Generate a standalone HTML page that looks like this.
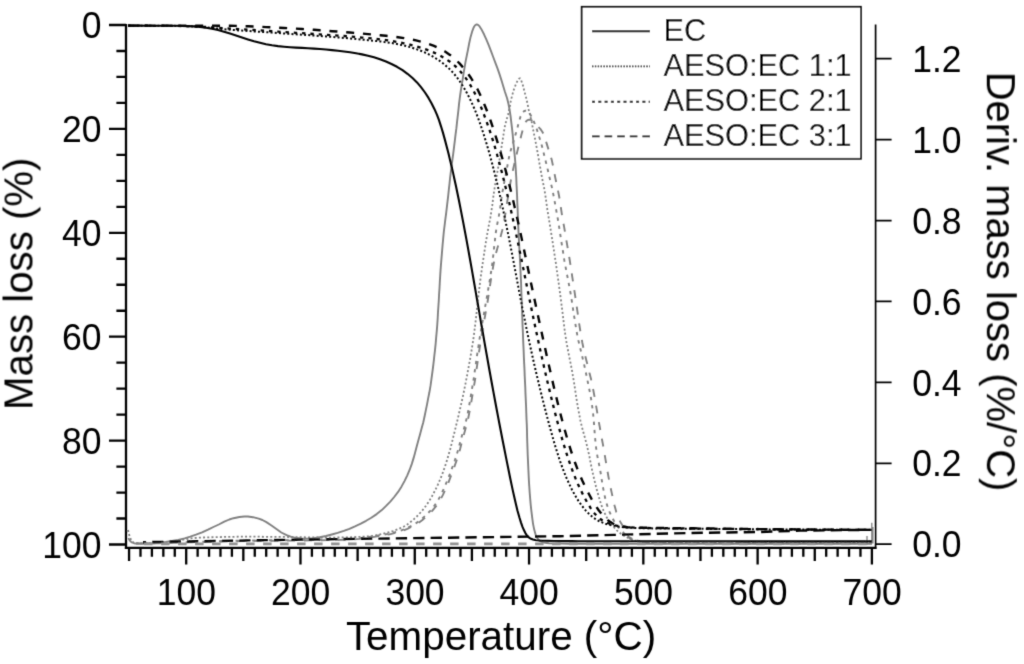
<!DOCTYPE html>
<html lang="en"><head><meta charset="utf-8"><title>TGA: mass loss and derivative mass loss vs temperature</title>
<style>
html,body{margin:0;padding:0;background:#fff;}
body{width:1024px;height:664px;overflow:hidden;}
svg{display:block;}
text{font-family:"Liberation Sans",Arial,Helvetica,sans-serif;fill:#000;}
.tick{font-size:35.5px;}
.lab{font-size:40.4px;}
.leg{font-size:30.8px;}
</style></head><body>
<svg width="1024" height="664" viewBox="0 0 1024 664" role="img" aria-label="Thermogravimetric analysis: mass loss and derivative mass loss versus temperature for EC and AESO:EC blends">
<rect width="1024" height="664" fill="#fff"/>
<defs><filter id="soft" x="0" y="0" width="1024" height="664" filterUnits="userSpaceOnUse"><feConvolveMatrix order="3" kernelMatrix="0.0169 0.0962 0.0169 0.0962 0.5476 0.0962 0.0169 0.0962 0.0169" divisor="1" edgeMode="duplicate" preserveAlpha="false"/></filter></defs>
<g filter="url(#soft)">

<g fill="none" stroke-linejoin="round" stroke-linecap="butt">
<path d="M128.5 538.0 L128.9 539.1 L129.3 539.9 L130.2 541.0 L130.9 541.7 L131.7 542.3 L132.6 542.7 L134.0 543.2 L135.5 543.5 L142.0 543.6 L148.0 543.4 L154.0 543.2 L159.9 542.6 L165.9 541.9 L171.9 541.0 L178.2 539.9 L184.6 538.4 L190.3 536.7 L196.0 534.7 L202.1 532.4 L208.0 529.7 L213.4 527.0 L218.8 524.5 L224.3 521.7 L229.3 519.5 L233.5 518.2 L239.4 517.0 L244.4 516.5 L247.9 516.5 L252.9 517.2 L258.7 518.7 L262.4 520.0 L266.4 522.1 L271.5 525.5 L276.4 529.0 L281.3 532.5 L286.6 535.1 L291.3 536.9 L294.7 537.7 L301.2 538.4 L307.2 538.6 L313.7 538.1 L319.6 537.2 L326.0 536.0 L331.8 534.5 L337.6 532.9 L343.8 530.9 L349.4 528.8 L355.0 526.4 L360.8 523.7 L366.1 520.8 L371.3 517.8 L376.7 514.1 L381.8 510.1 L386.1 505.9 L390.3 501.6 L394.2 497.0 L398.1 491.9 L401.6 486.4 L404.5 481.1 L407.3 475.3 L409.7 469.7 L411.9 463.6 L413.8 457.4 L415.4 451.6 L416.9 445.8 L418.6 439.5 L420.2 433.7 L421.7 427.9 L423.3 422.2 L424.7 415.8 L425.9 409.9 L427.1 404.1 L428.2 398.2 L429.4 392.3 L430.5 385.9 L431.4 379.4 L432.2 373.5 L433.0 367.5 L433.7 361.6 L434.4 355.1 L435.1 349.2 L435.7 343.2 L436.2 337.2 L436.8 330.7 L437.3 324.3 L437.7 318.3 L438.0 312.3 L438.4 306.3 L438.8 300.3 L439.1 294.3 L439.5 288.3 L439.8 282.3 L440.2 275.8 L440.6 269.4 L441.1 262.9 L441.6 256.9 L442.1 250.9 L442.6 244.9 L443.2 238.5 L443.8 232.0 L444.6 225.5 L445.3 219.6 L446.1 213.6 L446.8 207.7 L447.5 201.7 L448.2 195.8 L448.8 189.8 L449.5 183.8 L450.1 177.9 L450.9 171.4 L451.7 164.9 L452.5 159.0 L453.3 153.1 L454.1 146.6 L454.9 140.2 L455.6 134.2 L456.4 128.2 L457.0 122.3 L457.7 116.3 L458.4 110.4 L459.0 104.4 L459.8 97.9 L460.7 91.5 L461.7 85.1 L462.7 79.2 L463.6 73.2 L464.6 67.3 L465.7 60.9 L466.9 55.0 L468.1 49.1 L469.2 43.3 L470.6 36.9 L472.3 31.1 L473.5 27.9 L474.2 26.5 L474.8 25.7 L475.4 25.0 L475.8 24.8 L476.2 24.6 L476.6 24.5 L477.0 24.5 L477.4 24.6 L477.8 24.8 L478.6 25.3 L479.6 26.4 L481.2 28.9 L484.0 34.3 L486.4 39.7 L488.8 45.3 L491.1 51.3 L493.2 57.0 L495.3 62.6 L497.4 68.2 L499.4 73.9 L501.4 80.1 L503.1 85.8 L505.0 92.0 L507.1 98.2 L508.5 104.0 L509.6 109.9 L510.6 116.3 L511.3 122.3 L512.0 128.2 L512.7 134.7 L513.2 140.7 L513.8 146.7 L514.4 152.6 L515.0 158.6 L515.5 165.1 L515.9 171.6 L516.3 178.1 L516.5 184.1 L516.8 190.0 L517.1 196.0 L517.3 202.5 L517.6 208.5 L517.8 214.5 L518.0 220.5 L518.3 227.0 L518.6 233.5 L518.9 240.0 L519.2 246.0 L519.6 252.0 L519.9 258.0 L520.2 264.5 L520.5 271.0 L520.8 277.5 L521.1 283.9 L521.3 290.4 L521.5 296.4 L521.8 302.4 L522.0 308.4 L522.2 314.4 L522.4 320.4 L522.6 326.4 L522.9 332.4 L523.1 338.9 L523.4 345.4 L523.7 351.9 L523.9 357.9 L524.2 363.9 L524.5 369.9 L524.7 375.9 L525.0 381.9 L525.3 387.9 L525.5 393.9 L525.8 400.4 L526.1 406.8 L526.3 412.8 L526.5 418.8 L526.8 424.8 L527.0 430.8 L527.1 436.8 L527.3 442.8 L527.5 448.8 L527.7 454.8 L528.0 461.3 L528.3 467.8 L528.6 474.3 L528.9 480.8 L529.3 486.8 L529.7 492.8 L530.2 498.8 L530.7 504.8 L531.4 511.2 L532.2 517.7 L533.0 523.6 L534.2 529.6 L535.7 534.9 L536.7 537.1 L537.8 538.9 L538.7 540.1 L539.5 540.7 L540.2 541.2 L541.9 542.0 L545.3 542.8 L548.9 543.3 L555.4 543.5 L561.9 543.6 L568.4 543.7 L574.4 543.7 L580.4 543.8 L586.4 543.8 L592.5 543.8 L598.5 543.8 L604.5 543.8 L611.0 543.8 L617.5 543.8 L624.0 543.8 L630.5 543.8 L637.0 543.8 L643.5 543.8 L650.0 543.8 L656.5 543.8 L663.0 543.8 L669.5 543.8 L676.0 543.8 L682.5 543.8 L689.0 543.8 L695.5 543.8 L702.0 543.8 L708.5 543.8 L715.0 543.8 L721.5 543.8 L728.0 543.8 L734.5 543.8 L741.0 543.8 L747.5 543.8 L753.5 543.8 L759.5 543.8 L765.5 543.8 L771.5 543.8 L777.5 543.8 L783.5 543.8 L789.5 543.8 L795.5 543.8 L801.5 543.8 L807.5 543.8 L813.5 543.8 L819.5 543.8 L825.5 543.8 L831.5 543.8 L837.5 543.8 L843.5 543.8 L849.5 543.8 L855.5 543.8 L861.5 543.8 L867.5 543.8 L872.0 543.8" stroke="#808080" stroke-width="1.9"/>
<path d="M128.0 530.0 L129.3 535.4 L130.3 538.2 L131.2 540.0 L132.1 541.2 L132.8 542.0 L133.5 542.5 L134.4 542.9 L135.7 543.1 L141.8 543.3 L147.8 543.2 L153.8 542.9 L160.3 542.6 L166.8 542.0 L172.8 541.2 L178.7 540.4 L184.6 539.4 L190.6 538.4 L197.0 537.8 L203.5 537.5 L209.5 537.3 L215.5 537.1 L221.5 537.0 L228.0 536.9 L234.0 536.8 L240.0 536.7 L246.0 536.7 L252.5 536.7 L259.0 536.7 L265.0 536.8 L271.0 536.8 L277.0 536.9 L283.0 536.9 L289.0 537.0 L295.0 537.1 L301.0 537.2 L307.0 537.3 L313.0 537.4 L319.0 537.5 L325.5 537.6 L332.0 537.6 L338.0 537.5 L344.0 537.4 L350.0 537.3 L356.0 537.0 L362.5 536.7 L369.0 536.4 L375.4 535.5 L381.3 534.2 L387.1 532.7 L392.9 531.1 L398.6 529.0 L404.4 526.3 L409.0 523.3 L413.7 519.4 L418.0 515.3 L422.1 510.8 L425.8 506.0 L429.4 500.7 L432.4 495.5 L435.2 490.2 L438.0 484.3 L440.6 478.3 L442.8 472.7 L444.8 467.1 L446.8 460.9 L448.5 455.1 L450.2 449.4 L451.8 443.1 L453.2 437.3 L454.7 431.4 L456.1 425.6 L457.7 419.3 L459.0 413.4 L460.4 407.6 L461.7 401.7 L463.0 395.9 L464.3 389.5 L465.6 383.1 L466.8 376.8 L467.9 370.9 L469.0 365.0 L470.1 359.0 L471.1 353.1 L472.1 347.2 L473.1 340.8 L474.0 334.4 L474.8 327.9 L475.6 321.5 L476.3 315.5 L476.9 309.5 L477.5 303.6 L478.2 297.6 L478.9 291.6 L479.7 285.2 L480.5 278.7 L481.4 272.3 L482.2 266.4 L483.1 260.4 L484.0 254.5 L484.9 248.6 L485.8 242.6 L486.9 236.2 L488.0 229.8 L489.1 223.9 L490.3 218.0 L491.3 211.6 L492.3 205.2 L493.0 199.2 L493.8 193.3 L494.8 186.9 L495.9 180.5 L496.9 174.5 L498.0 168.6 L499.0 162.7 L500.1 156.3 L501.0 150.4 L501.9 144.5 L502.9 138.5 L503.8 132.6 L504.9 126.2 L506.5 119.9 L508.2 114.2 L509.6 107.8 L510.6 101.9 L512.1 95.6 L513.8 89.8 L516.1 83.7 L517.7 80.5 L518.6 79.2 L519.2 78.5 L519.5 78.4 L519.7 78.3 L520.0 78.3 L520.2 78.4 L520.5 78.7 L520.9 79.5 L523.0 85.6 L524.4 91.4 L526.0 97.2 L527.5 103.5 L528.6 109.4 L530.2 115.7 L531.7 122.1 L532.8 128.0 L534.0 133.9 L535.2 139.7 L536.4 146.1 L537.5 152.0 L538.6 158.4 L539.6 164.3 L540.8 170.7 L541.8 176.6 L543.0 182.5 L544.2 188.4 L545.3 194.8 L546.2 201.2 L547.0 207.2 L548.0 213.6 L549.0 219.5 L550.0 225.5 L550.9 231.4 L551.9 237.3 L552.8 243.2 L553.7 249.2 L554.7 255.6 L555.7 262.0 L556.6 268.5 L557.4 274.4 L558.3 280.3 L559.1 286.3 L559.9 292.2 L560.7 298.2 L561.5 304.6 L562.3 310.6 L563.0 316.5 L563.7 322.5 L564.5 328.9 L565.4 335.4 L566.4 341.8 L567.6 348.2 L568.7 354.1 L569.9 360.0 L571.1 365.8 L572.2 371.7 L573.2 377.7 L574.2 383.6 L575.1 389.5 L576.0 395.5 L576.9 401.4 L578.0 407.8 L579.2 414.2 L580.4 420.5 L581.9 426.9 L583.5 432.7 L585.1 438.5 L586.6 444.3 L588.1 450.6 L589.5 456.9 L590.6 462.8 L591.8 468.7 L593.2 475.1 L594.6 480.9 L596.0 486.7 L597.7 493.0 L599.4 498.8 L601.3 505.0 L603.5 510.6 L606.2 516.5 L609.4 521.6 L613.1 526.3 L616.8 530.4 L621.0 533.9 L624.8 536.4 L629.3 538.5 L635.0 540.4 L639.4 541.4 L645.8 542.1 L651.8 542.5 L657.8 542.6 L664.3 542.7 L670.8 542.8 L676.8 542.9 L682.8 542.9 L688.8 543.0 L694.8 543.0 L700.8 543.0 L707.3 543.0 L713.8 543.0 L720.3 543.0 L726.8 543.1 L733.3 543.1 L739.8 543.1 L746.3 543.1 L752.8 543.1 L759.3 543.1 L765.8 543.1 L772.3 543.1 L778.8 543.1 L785.3 543.2 L791.8 543.2 L797.8 543.2 L803.8 543.2 L809.8 543.2 L815.8 543.2 L821.8 543.2 L827.8 543.2 L833.8 543.2 L839.8 543.2 L845.8 543.2 L851.8 543.2 L857.8 543.2 L863.8 543.2 L870.3 543.2 L871.8 543.2" stroke="#808080" stroke-width="1.8" stroke-dasharray="2 2.2"/>
<path d="M136.0 543.4 L142.0 543.3 L148.0 543.2 L154.5 543.1 L161.0 543.0 L167.5 542.8 L174.0 542.6 L180.0 542.4 L186.0 542.2 L192.0 542.0 L198.0 541.9 L204.0 541.7 L210.0 541.5 L216.0 541.3 L222.0 541.2 L228.0 541.0 L234.0 540.8 L240.5 540.7 L247.0 540.5 L253.5 540.5 L260.0 540.4 L266.5 540.3 L272.5 540.3 L278.5 540.2 L284.5 540.2 L290.5 540.1 L297.0 540.0 L303.0 540.0 L309.0 539.9 L315.0 539.8 L321.0 539.7 L327.0 539.6 L333.0 539.5 L339.5 539.3 L346.0 539.1 L352.4 538.9 L358.9 538.3 L364.9 537.6 L370.8 536.7 L376.8 535.7 L382.7 534.8 L388.6 533.7 L394.5 532.4 L400.7 530.6 L406.3 528.4 L411.7 525.7 L417.2 522.4 L422.0 518.7 L426.5 514.7 L431.0 510.0 L434.8 505.2 L438.3 499.8 L441.3 494.1 L443.9 488.6 L446.4 482.7 L448.7 477.1 L450.8 471.5 L452.9 465.8 L454.9 460.2 L456.9 454.0 L458.7 447.8 L460.2 442.0 L461.8 436.2 L463.5 430.4 L465.1 424.6 L466.7 418.3 L468.0 412.0 L469.1 406.1 L470.1 400.2 L471.1 394.2 L472.1 388.3 L473.2 381.9 L474.2 375.5 L475.0 369.5 L475.9 363.6 L476.7 357.6 L477.6 351.7 L478.5 345.8 L479.5 339.3 L480.5 332.9 L481.6 326.5 L482.7 320.6 L483.8 314.7 L484.8 308.8 L485.9 302.4 L487.0 296.5 L488.0 290.6 L489.0 284.7 L490.0 278.7 L491.0 272.3 L492.0 265.9 L492.8 259.5 L493.5 253.5 L494.1 247.5 L494.8 241.6 L495.4 235.6 L496.3 229.2 L497.5 222.8 L498.7 216.9 L499.8 210.5 L500.7 204.6 L501.4 198.6 L502.4 192.2 L503.5 186.3 L504.6 180.4 L505.8 174.5 L506.9 168.6 L508.0 162.7 L509.1 156.8 L510.7 150.5 L512.5 144.8 L514.2 139.0 L515.9 133.3 L517.5 127.5 L518.9 121.7 L520.6 116.4 L521.7 114.1 L522.4 112.8 L523.0 112.1 L523.8 111.4 L524.6 110.9 L525.0 110.8 L525.5 110.7 L526.0 110.6 L526.4 110.7 L526.9 110.8 L527.3 110.9 L527.8 111.1 L528.5 111.7 L529.1 112.4 L532.1 117.7 L534.7 123.6 L536.8 129.3 L538.6 135.0 L540.4 140.7 L542.2 147.0 L543.6 152.8 L545.0 158.6 L546.5 164.5 L548.0 170.8 L549.3 176.6 L550.7 182.5 L552.1 188.3 L553.4 194.7 L554.5 200.6 L555.6 206.5 L556.6 212.4 L557.8 218.8 L558.8 224.7 L559.7 230.6 L560.6 236.5 L561.5 242.5 L562.5 248.4 L563.4 254.3 L564.4 260.7 L565.6 267.1 L566.8 273.5 L568.0 279.4 L569.1 285.3 L570.3 291.7 L571.3 297.6 L572.2 303.5 L573.1 309.5 L574.0 315.4 L575.0 321.3 L576.0 327.8 L577.1 334.1 L578.4 340.5 L579.9 346.8 L581.3 352.7 L582.7 358.5 L584.1 364.4 L585.5 370.7 L586.7 376.6 L587.9 382.5 L589.1 388.4 L590.3 394.3 L591.4 400.7 L592.3 407.1 L593.1 413.5 L593.7 420.0 L594.2 426.0 L594.6 432.0 L595.1 438.0 L595.7 444.4 L596.5 450.9 L597.6 457.3 L598.8 463.1 L600.0 469.0 L601.0 475.0 L601.9 480.9 L602.9 486.8 L604.1 493.2 L605.4 499.1 L607.0 504.9 L609.1 511.0 L611.6 516.5 L614.4 521.8 L617.8 526.7 L621.7 531.2 L625.8 534.9 L629.6 537.4 L632.7 539.1 L635.9 540.3 L641.8 541.6 L648.3 542.3 L654.3 542.6 L660.3 542.8 L666.8 542.9 L673.3 543.0 L679.3 543.1 L685.3 543.1 L691.3 543.2 L697.3 543.2 L703.8 543.2 L710.3 543.2 L716.8 543.2 L723.3 543.3 L729.8 543.3 L736.3 543.3 L742.8 543.3 L749.3 543.3 L755.8 543.3 L762.3 543.3 L768.8 543.3 L775.3 543.3 L781.8 543.3 L788.3 543.4 L794.8 543.4 L800.8 543.4 L806.8 543.4 L812.8 543.4 L818.8 543.4 L824.8 543.4 L830.8 543.4 L836.8 543.4 L842.8 543.4 L848.8 543.4 L854.8 543.4 L860.8 543.4 L866.8 543.4 L871.8 543.4" stroke="#808080" stroke-width="1.9" stroke-dasharray="3.4 4.9"/>
<path d="M136.0 543.6 L142.0 543.5 L148.0 543.4 L154.5 543.3 L161.0 543.2 L167.5 543.0 L174.0 542.8 L180.0 542.6 L186.0 542.4 L192.0 542.2 L198.5 542.0 L205.0 541.9 L211.5 541.7 L217.5 541.6 L223.5 541.5 L229.5 541.3 L235.5 541.2 L241.5 541.1 L248.0 541.0 L254.5 540.9 L261.0 540.9 L267.0 540.8 L273.0 540.8 L279.0 540.7 L285.0 540.7 L291.0 540.6 L297.5 540.5 L303.5 540.5 L309.5 540.4 L315.5 540.3 L321.5 540.2 L327.5 540.1 L333.5 540.0 L340.0 539.9 L346.5 539.7 L352.9 539.5 L359.4 538.9 L365.4 538.2 L371.3 537.4 L377.3 536.4 L383.7 535.4 L389.6 534.3 L395.5 532.9 L401.7 531.1 L407.3 528.9 L412.7 526.2 L418.3 523.0 L423.1 519.4 L427.7 515.4 L432.2 510.8 L436.1 506.2 L439.7 500.8 L442.8 495.1 L445.4 489.6 L448.0 483.7 L450.3 477.6 L452.4 472.0 L454.5 466.3 L456.5 460.7 L458.5 454.5 L460.3 448.3 L461.7 442.5 L463.3 436.6 L464.9 430.9 L466.5 425.1 L468.1 418.8 L469.4 412.4 L470.6 406.0 L471.6 400.1 L472.6 394.2 L473.6 388.3 L474.7 381.9 L475.7 375.4 L476.5 369.5 L477.4 363.6 L478.2 357.6 L479.1 351.7 L480.0 345.7 L481.0 339.3 L482.0 332.9 L483.1 326.5 L484.2 320.6 L485.3 314.7 L486.3 308.8 L487.4 302.9 L488.3 297.0 L489.2 291.0 L490.1 285.1 L491.0 279.1 L492.1 272.7 L493.2 266.3 L494.4 260.0 L495.9 253.7 L497.5 247.8 L499.1 242.1 L500.7 236.3 L502.2 230.5 L503.6 224.1 L504.7 217.7 L505.7 211.8 L506.6 205.9 L507.5 199.9 L508.5 194.0 L509.6 187.6 L510.6 181.7 L511.8 175.8 L513.1 169.4 L514.4 163.6 L515.8 157.8 L517.2 151.9 L518.6 146.1 L520.1 140.3 L521.5 134.4 L523.2 128.1 L524.8 123.8 L525.4 122.5 L525.9 121.7 L526.6 120.9 L527.3 120.3 L528.2 119.9 L529.1 119.7 L530.0 119.7 L530.5 119.8 L531.4 120.1 L532.2 120.7 L536.4 124.9 L540.3 128.9 L542.3 131.7 L544.0 134.8 L545.1 137.5 L546.6 143.4 L548.4 149.1 L550.3 154.8 L551.9 160.6 L553.2 166.9 L554.3 172.8 L555.5 178.7 L556.7 184.6 L558.0 190.5 L559.2 196.8 L560.3 203.2 L561.1 209.2 L562.0 215.1 L563.1 221.5 L564.2 227.4 L565.2 233.3 L566.2 239.2 L567.2 245.2 L568.2 251.1 L569.3 257.5 L570.3 263.9 L571.3 270.3 L572.2 276.3 L573.1 282.2 L574.0 288.1 L574.9 294.1 L575.8 300.0 L576.6 305.9 L577.5 311.9 L578.3 317.8 L579.2 323.8 L580.1 329.7 L581.2 336.1 L582.3 342.5 L583.6 348.9 L585.0 355.2 L586.5 361.0 L588.0 366.8 L589.4 372.7 L590.9 378.5 L592.3 384.9 L593.5 391.2 L594.7 397.6 L595.7 403.5 L596.7 409.4 L597.7 415.4 L598.7 421.3 L599.8 427.2 L600.8 433.1 L601.9 439.0 L603.0 444.9 L604.1 451.3 L605.1 457.2 L606.1 463.1 L607.2 469.5 L608.3 475.9 L609.4 481.8 L610.6 487.7 L612.0 494.1 L613.3 499.9 L614.6 505.8 L616.3 512.1 L618.5 518.2 L620.5 522.2 L623.6 527.3 L626.4 532.7 L628.6 536.7 L629.4 537.9 L630.4 539.0 L631.6 539.8 L632.9 540.6 L634.7 541.4 L640.1 542.5 L646.1 543.0 L652.6 543.1 L659.1 543.2 L665.6 543.3 L671.6 543.3 L677.6 543.3 L683.6 543.4 L689.6 543.4 L695.6 543.4 L701.6 543.4 L708.1 543.4 L714.6 543.4 L721.1 543.4 L727.6 543.5 L734.1 543.5 L740.6 543.5 L747.1 543.5 L753.6 543.5 L760.1 543.5 L766.6 543.5 L773.1 543.5 L779.6 543.5 L786.1 543.5 L792.6 543.6 L798.6 543.6 L804.6 543.6 L810.6 543.6 L816.6 543.6 L822.6 543.6 L828.6 543.6 L834.6 543.6 L840.6 543.6 L846.6 543.6 L852.6 543.6 L858.6 543.6 L864.6 543.6 L871.1 543.6 L871.6 543.6" stroke="#808080" stroke-width="1.9" stroke-dasharray="8 8.8"/>
<path d="M872 529.8 L800 530.6 L759 532 L690 533 L560 536.2 L500 537 L300 539.6 L143 542.2" stroke="#000" stroke-width="2.4" stroke-dasharray="11.3 6.1" stroke-dashoffset="4.8"/>
<path d="M872 543.9 H136" stroke="#929292" stroke-width="2.9" stroke-dasharray="8.5 8.5" stroke-dashoffset="-5.4"/>
<path d="M871.8 543.5 V522.7 M872.9 543.5 V527 M867 543.5 V536" stroke="#808080" stroke-width="1.3"/>
<path d="M128.0 25.6 L134.0 25.6 L140.0 25.6 L146.0 25.7 L152.0 25.7 L158.0 25.7 L164.0 25.7 L170.0 25.8 L176.0 25.8 L182.0 26.0 L188.0 26.1 L194.0 26.4 L200.0 26.9 L206.0 27.7 L212.0 28.7 L218.0 30.1 L224.0 31.7 L230.0 33.6 L236.0 35.6 L242.0 37.6 L248.0 39.5 L254.0 41.3 L260.0 42.8 L266.0 44.2 L272.0 45.3 L278.0 46.1 L284.0 46.7 L290.0 47.2 L296.0 47.6 L302.0 47.9 L308.0 48.2 L314.0 48.6 L320.0 49.0 L326.0 49.5 L332.0 50.1 L338.0 50.7 L344.0 51.5 L350.0 52.3 L356.0 53.3 L362.0 54.4 L368.0 55.7 L374.0 57.3 L380.0 59.2 L386.0 61.5 L391.5 64.0 L397.0 66.8 L402.5 70.2 L407.5 73.8 L412.5 78.0 L417.0 82.4 L421.0 87.1 L425.0 92.5 L428.5 97.9 L431.5 103.2 L434.5 109.2 L437.0 114.9 L439.0 120.2 L441.0 126.3 L443.0 132.9 L445.0 140.1 L447.0 147.7 L448.5 153.6 L450.0 159.7 L451.5 166.1 L453.0 172.7 L454.5 179.4 L456.0 186.3 L457.5 193.5 L459.0 200.8 L460.5 208.4 L462.0 216.1 L463.5 223.9 L465.0 231.9 L466.5 239.9 L468.0 248.1 L469.5 256.5 L471.0 264.9 L472.5 273.4 L474.0 282.0 L475.5 290.6 L477.0 299.3 L478.5 308.0 L480.0 316.6 L481.5 325.2 L483.0 333.8 L484.5 342.4 L486.0 350.9 L487.5 359.3 L489.0 367.7 L490.5 376.0 L492.0 384.2 L493.5 392.4 L495.0 400.5 L496.5 408.5 L498.0 416.4 L499.5 424.2 L501.0 432.0 L502.5 439.7 L504.0 447.3 L505.5 454.9 L507.0 462.4 L508.5 469.8 L510.0 477.2 L511.5 484.4 L513.0 491.4 L514.5 498.1 L516.0 504.6 L517.5 510.7 L519.5 517.8 L521.0 522.6 L522.5 526.8 L524.0 530.3 L525.5 533.2 L526.5 534.9 L527.5 536.2 L528.5 537.2 L529.5 537.9 L531.0 538.8 L533.0 539.5 L536.0 540.2 L542.0 540.7 L548.0 540.9 L554.0 541.0 L560.0 541.1 L566.0 541.1 L572.0 541.1 L578.0 541.2 L584.0 541.2 L590.0 541.2 L596.0 541.2 L602.0 541.2 L608.0 541.2 L614.0 541.2 L620.0 541.2 L626.0 541.2 L632.0 541.2 L638.0 541.3 L644.0 541.3 L650.0 541.3 L656.0 541.3 L662.0 541.3 L668.0 541.3 L674.0 541.3 L680.0 541.3 L686.0 541.3 L692.0 541.3 L698.0 541.3 L704.0 541.3 L710.0 541.3 L716.0 541.3 L722.0 541.3 L728.0 541.3 L734.0 541.3 L740.0 541.4 L746.0 541.4 L752.0 541.4 L758.0 541.4 L764.0 541.4 L770.0 541.4 L776.0 541.4 L782.0 541.4 L788.0 541.4 L794.0 541.4 L800.0 541.4 L806.0 541.4 L812.0 541.4 L818.0 541.4 L824.0 541.4 L830.0 541.4 L836.0 541.4 L842.0 541.4 L848.0 541.4 L854.0 541.4 L860.0 541.4 L866.0 541.4 L872.0 541.4" stroke="#000" stroke-width="2.1"/>
<path d="M128.0 25.7 L134.0 25.7 L140.0 25.7 L146.0 25.7 L152.0 25.7 L158.0 25.8 L164.0 25.8 L170.0 25.8 L176.0 25.9 L182.0 26.0 L188.0 26.2 L194.0 26.5 L200.0 26.9 L206.0 27.4 L212.0 28.0 L218.0 28.6 L224.0 29.2 L230.0 29.7 L236.0 30.2 L242.0 30.6 L248.0 31.0 L254.0 31.4 L260.0 31.8 L266.0 32.2 L272.0 32.6 L278.0 33.0 L284.0 33.5 L290.0 33.9 L296.0 34.3 L302.0 34.7 L308.0 35.1 L314.0 35.5 L320.0 36.0 L326.0 36.4 L332.0 36.9 L338.0 37.4 L344.0 37.9 L350.0 38.5 L356.0 39.0 L362.0 39.6 L368.0 40.2 L374.0 40.8 L380.0 41.4 L386.0 42.2 L392.0 43.1 L398.0 44.2 L404.0 45.5 L410.0 47.1 L416.0 49.0 L422.0 51.2 L427.5 53.7 L433.0 56.6 L438.5 60.0 L443.5 63.7 L448.5 68.0 L453.0 72.6 L457.0 77.4 L460.5 82.3 L464.0 87.9 L467.0 93.2 L470.0 99.1 L473.0 105.5 L475.5 111.3 L478.0 117.8 L480.5 124.7 L482.5 130.7 L484.5 136.9 L486.5 143.5 L488.5 150.3 L490.5 157.4 L492.5 164.8 L494.5 172.6 L496.0 178.6 L497.5 184.9 L499.0 191.3 L500.5 197.8 L502.0 204.6 L503.5 211.6 L505.0 218.7 L506.5 226.0 L508.0 233.4 L509.5 240.9 L511.0 248.5 L512.5 256.3 L514.0 264.1 L515.5 272.0 L517.0 279.9 L518.5 287.8 L520.0 295.7 L521.5 303.6 L523.0 311.3 L524.5 318.8 L526.0 326.2 L527.5 333.5 L529.0 340.6 L530.5 347.5 L532.0 354.3 L533.5 361.0 L535.0 367.5 L536.5 374.0 L538.0 380.3 L539.5 386.5 L541.0 392.7 L542.5 398.7 L544.0 404.7 L545.5 410.6 L547.5 418.3 L549.5 425.8 L551.5 433.1 L553.5 440.1 L555.5 446.9 L557.5 453.3 L559.5 459.5 L561.5 465.2 L564.0 471.9 L566.5 477.9 L569.0 483.5 L572.0 489.7 L575.0 495.3 L578.5 501.0 L582.0 505.9 L586.0 510.8 L589.5 514.4 L592.5 517.0 L596.0 519.4 L600.0 521.6 L605.5 523.7 L611.5 525.3 L617.5 526.4 L623.5 527.2 L629.5 527.7 L635.5 528.0 L641.5 528.2 L647.5 528.3 L653.5 528.4 L659.5 528.5 L665.5 528.5 L671.5 528.6 L677.5 528.6 L683.5 528.7 L689.5 528.7 L695.5 528.8 L701.5 528.8 L707.5 528.9 L713.5 528.9 L719.5 529.0 L725.5 529.0 L731.5 529.1 L737.5 529.1 L743.5 529.2 L749.5 529.2 L755.5 529.3 L761.5 529.3 L767.5 529.4 L773.5 529.4 L779.5 529.5 L785.5 529.5 L791.5 529.5 L797.5 529.6 L803.5 529.6 L809.5 529.7 L815.5 529.7 L821.5 529.7 L827.5 529.8 L833.5 529.8 L839.5 529.8 L845.5 529.9 L851.5 529.9 L857.5 529.9 L863.5 530.0 L869.5 530.0 L872.0 530.0" stroke="#000" stroke-width="2.0" stroke-dasharray="2 2.2"/>
<path d="M128.0 25.7 L134.0 25.7 L140.0 25.7 L146.0 25.7 L152.0 25.8 L158.0 25.8 L164.0 25.8 L170.0 25.9 L176.0 25.9 L182.0 26.0 L188.0 26.1 L194.0 26.3 L200.0 26.6 L206.0 27.0 L212.0 27.4 L218.0 27.8 L224.0 28.2 L230.0 28.6 L236.0 29.0 L242.0 29.3 L248.0 29.7 L254.0 30.0 L260.0 30.4 L266.0 30.8 L272.0 31.2 L278.0 31.6 L284.0 32.0 L290.0 32.4 L296.0 32.8 L302.0 33.2 L308.0 33.6 L314.0 34.0 L320.0 34.4 L326.0 34.8 L332.0 35.2 L338.0 35.6 L344.0 36.0 L350.0 36.5 L356.0 37.0 L362.0 37.6 L368.0 38.1 L374.0 38.7 L380.0 39.4 L386.0 40.1 L392.0 41.0 L398.0 42.1 L404.0 43.3 L410.0 44.7 L416.0 46.3 L422.0 48.1 L428.0 50.2 L434.0 52.6 L439.5 55.2 L445.0 58.4 L450.0 61.8 L455.0 65.9 L459.0 69.9 L463.0 74.5 L467.0 79.9 L470.5 85.3 L473.5 90.7 L476.5 96.7 L479.0 102.2 L481.5 108.2 L484.0 114.6 L486.5 121.4 L488.5 127.0 L490.5 132.9 L492.5 139.1 L494.5 145.6 L496.5 152.5 L498.5 159.7 L500.5 167.1 L502.5 174.8 L504.0 180.8 L505.5 186.9 L507.0 193.1 L508.5 199.5 L510.0 206.1 L511.5 212.7 L513.0 219.5 L514.5 226.3 L516.0 233.3 L517.5 240.3 L519.0 247.5 L520.5 254.8 L522.0 262.2 L523.5 269.6 L525.0 277.0 L526.5 284.4 L528.0 291.8 L529.5 299.2 L531.0 306.5 L532.5 313.8 L534.0 321.0 L535.5 328.1 L537.0 335.1 L538.5 342.1 L540.0 348.9 L541.5 355.7 L543.0 362.4 L544.5 369.0 L546.0 375.5 L547.5 381.9 L549.0 388.2 L550.5 394.4 L552.0 400.6 L553.5 406.6 L555.0 412.6 L556.5 418.4 L558.5 425.9 L560.5 433.2 L562.5 440.2 L564.5 446.9 L566.5 453.3 L568.5 459.4 L570.5 465.2 L573.0 472.1 L575.5 478.4 L578.0 484.2 L581.0 490.6 L584.0 496.6 L587.0 502.0 L590.5 507.8 L593.0 511.5 L594.5 513.4 L596.5 515.6 L600.0 518.7 L602.5 520.5 L605.5 522.1 L610.5 524.1 L616.5 525.7 L622.5 526.7 L628.5 527.3 L634.5 527.6 L640.5 527.8 L646.5 528.0 L652.5 528.1 L658.5 528.2 L664.5 528.2 L670.5 528.3 L676.5 528.4 L682.5 528.4 L688.5 528.5 L694.5 528.5 L700.5 528.6 L706.5 528.7 L712.5 528.7 L718.5 528.8 L724.5 528.9 L730.5 528.9 L736.5 529.0 L742.5 529.0 L748.5 529.1 L754.5 529.1 L760.5 529.2 L766.5 529.2 L772.5 529.3 L778.5 529.3 L784.5 529.4 L790.5 529.4 L796.5 529.5 L802.5 529.5 L808.5 529.6 L814.5 529.6 L820.5 529.6 L826.5 529.7 L832.5 529.7 L838.5 529.7 L844.5 529.8 L850.5 529.8 L856.5 529.8 L862.5 529.9 L868.5 529.9 L872.0 529.9" stroke="#000" stroke-width="2.3" stroke-dasharray="3.4 4.9"/>
<path d="M128.0 25.6 L134.0 25.6 L140.0 25.6 L146.0 25.6 L152.0 25.6 L158.0 25.6 L164.0 25.6 L170.0 25.6 L176.0 25.6 L182.0 25.6 L188.0 25.6 L194.0 25.6 L200.0 25.6 L206.0 25.6 L212.0 25.6 L218.0 25.7 L224.0 25.7 L230.0 25.8 L236.0 25.9 L242.0 26.1 L248.0 26.3 L254.0 26.5 L260.0 26.8 L266.0 27.1 L272.0 27.4 L278.0 27.7 L284.0 28.0 L290.0 28.3 L296.0 28.6 L302.0 29.0 L308.0 29.4 L314.0 29.8 L320.0 30.3 L326.0 30.7 L332.0 31.2 L338.0 31.6 L344.0 32.0 L350.0 32.5 L356.0 33.0 L362.0 33.5 L368.0 34.1 L374.0 34.6 L380.0 35.2 L386.0 35.8 L392.0 36.4 L398.0 37.2 L404.0 38.1 L410.0 39.1 L416.0 40.4 L422.0 41.9 L428.0 43.7 L434.0 45.9 L439.5 48.4 L445.0 51.5 L450.0 54.9 L455.0 59.0 L459.5 63.4 L463.5 67.9 L467.5 73.0 L471.0 78.0 L474.5 83.8 L477.5 89.3 L480.5 95.5 L483.0 101.1 L485.5 107.2 L488.0 113.6 L490.5 120.5 L492.5 126.4 L494.5 132.5 L496.5 138.9 L498.5 145.4 L500.5 152.1 L502.5 159.1 L504.5 166.2 L506.5 173.6 L508.5 181.4 L510.0 187.4 L511.5 193.6 L513.0 199.9 L514.5 206.3 L516.0 212.9 L517.5 219.6 L519.0 226.4 L520.5 233.3 L522.0 240.2 L523.5 247.3 L525.0 254.4 L526.5 261.6 L528.0 268.7 L529.5 275.9 L531.0 283.0 L532.5 290.1 L534.0 297.1 L535.5 304.1 L537.0 311.1 L538.5 318.0 L540.0 324.9 L541.5 331.8 L543.0 338.7 L544.5 345.5 L546.0 352.3 L547.5 359.0 L549.0 365.7 L550.5 372.3 L552.0 378.9 L553.5 385.4 L555.0 391.7 L556.5 398.0 L558.0 404.1 L559.5 410.2 L561.0 416.0 L563.0 423.6 L565.0 430.8 L567.0 437.8 L569.0 444.5 L571.0 450.8 L573.0 456.8 L575.0 462.5 L577.5 469.2 L580.0 475.3 L582.5 481.0 L585.5 487.4 L588.5 493.3 L591.5 498.9 L595.0 504.8 L598.5 510.0 L602.0 514.5 L605.0 517.7 L607.5 519.9 L610.0 521.8 L613.0 523.5 L616.0 524.8 L621.5 526.3 L627.5 527.2 L633.5 527.5 L639.5 527.6 L645.5 527.7 L651.5 527.8 L657.5 527.9 L663.5 528.0 L669.5 528.1 L675.5 528.2 L681.5 528.2 L687.5 528.3 L693.5 528.3 L699.5 528.4 L705.5 528.5 L711.5 528.5 L717.5 528.6 L723.5 528.7 L729.5 528.7 L735.5 528.8 L741.5 528.9 L747.5 528.9 L753.5 529.0 L759.5 529.1 L765.5 529.1 L771.5 529.2 L777.5 529.2 L783.5 529.3 L789.5 529.3 L795.5 529.4 L801.5 529.4 L807.5 529.5 L813.5 529.5 L819.5 529.5 L825.5 529.6 L831.5 529.6 L837.5 529.6 L843.5 529.7 L849.5 529.7 L855.5 529.7 L861.5 529.8 L867.5 529.8 L872.0 529.8" stroke="#000" stroke-width="2.4" stroke-dasharray="8 8.8"/>
</g>
<g stroke="#000" fill="none" stroke-linecap="butt">
<path stroke-width="2.3" d="M126.0 23.9 V549.0"/>
<path stroke-width="2.3" d="M124.9 547.9 H876.4"/>
<path stroke-width="1.7" d="M875.6 24.5 V549.0"/>
<path stroke-width="2.3" d="M109.0 25.00H126.0 M116.4 50.98H126.0 M116.4 76.95H126.0 M116.4 102.92H126.0 M109.0 128.90H126.0 M116.4 154.88H126.0 M116.4 180.85H126.0 M116.4 206.82H126.0 M109.0 232.80H126.0 M116.4 258.77H126.0 M116.4 284.75H126.0 M116.4 310.73H126.0 M109.0 336.70H126.0 M116.4 362.68H126.0 M116.4 388.65H126.0 M116.4 414.62H126.0 M109.0 440.60H126.0 M116.4 466.57H126.0 M116.4 492.55H126.0 M116.4 518.52H126.0 M109.0 544.50H126.0 "/>
<path stroke-width="2.3" d="M129.06 547.9V561.0 M140.49 547.9V556.6999999999999 M151.91 547.9V556.6999999999999 M163.34 547.9V556.6999999999999 M174.77 547.9V556.6999999999999 M186.20 547.9V564.5 M197.63 547.9V556.6999999999999 M209.06 547.9V556.6999999999999 M220.48 547.9V556.6999999999999 M231.91 547.9V556.6999999999999 M243.34 547.9V561.0 M254.77 547.9V556.6999999999999 M266.20 547.9V556.6999999999999 M277.63 547.9V556.6999999999999 M289.06 547.9V556.6999999999999 M300.48 547.9V564.5 M311.91 547.9V556.6999999999999 M323.34 547.9V556.6999999999999 M334.77 547.9V556.6999999999999 M346.20 547.9V556.6999999999999 M357.62 547.9V561.0 M369.05 547.9V556.6999999999999 M380.48 547.9V556.6999999999999 M391.91 547.9V556.6999999999999 M403.34 547.9V556.6999999999999 M414.77 547.9V564.5 M426.19 547.9V556.6999999999999 M437.62 547.9V556.6999999999999 M449.05 547.9V556.6999999999999 M460.48 547.9V556.6999999999999 M471.91 547.9V561.0 M483.34 547.9V556.6999999999999 M494.76 547.9V556.6999999999999 M506.19 547.9V556.6999999999999 M517.62 547.9V556.6999999999999 M529.05 547.9V564.5 M540.48 547.9V556.6999999999999 M551.91 547.9V556.6999999999999 M563.34 547.9V556.6999999999999 M574.76 547.9V556.6999999999999 M586.19 547.9V561.0 M597.62 547.9V556.6999999999999 M609.05 547.9V556.6999999999999 M620.48 547.9V556.6999999999999 M631.90 547.9V556.6999999999999 M643.33 547.9V564.5 M654.76 547.9V556.6999999999999 M666.19 547.9V556.6999999999999 M677.62 547.9V556.6999999999999 M689.05 547.9V556.6999999999999 M700.47 547.9V561.0 M711.90 547.9V556.6999999999999 M723.33 547.9V556.6999999999999 M734.76 547.9V556.6999999999999 M746.19 547.9V556.6999999999999 M757.62 547.9V564.5 M769.05 547.9V556.6999999999999 M780.47 547.9V556.6999999999999 M791.90 547.9V556.6999999999999 M803.33 547.9V556.6999999999999 M814.76 547.9V561.0 M826.19 547.9V556.6999999999999 M837.62 547.9V556.6999999999999 M849.04 547.9V556.6999999999999 M860.47 547.9V556.6999999999999 M871.90 547.9V564.5 "/>
<path stroke-width="1.7" d="M875.6 544.20H891.6 M875.6 463.28H891.6 M875.6 382.37H891.6 M875.6 301.45H891.6 M875.6 220.53H891.6 M875.6 139.62H891.6 M875.6 58.70H891.6 "/>
</g>
<text class="tick" text-anchor="end" transform="translate(101.6 38.0) scale(1 1.06)">0</text>
<text class="tick" text-anchor="end" transform="translate(101.6 141.9) scale(1 1.06)">20</text>
<text class="tick" text-anchor="end" transform="translate(101.6 245.8) scale(1 1.06)">40</text>
<text class="tick" text-anchor="end" transform="translate(101.6 349.7) scale(1 1.06)">60</text>
<text class="tick" text-anchor="end" transform="translate(101.6 453.6) scale(1 1.06)">80</text>
<text class="tick" text-anchor="end" transform="translate(101.6 557.5) scale(1 1.06)">100</text>
<text class="tick" text-anchor="middle" transform="translate(186.4 605.3) scale(1 1.06)">100</text>
<text class="tick" text-anchor="middle" transform="translate(300.7 605.3) scale(1 1.06)">200</text>
<text class="tick" text-anchor="middle" transform="translate(415.0 605.3) scale(1 1.06)">300</text>
<text class="tick" text-anchor="middle" transform="translate(529.2 605.3) scale(1 1.06)">400</text>
<text class="tick" text-anchor="middle" transform="translate(643.5 605.3) scale(1 1.06)">500</text>
<text class="tick" text-anchor="middle" transform="translate(757.8 605.3) scale(1 1.06)">600</text>
<text class="tick" text-anchor="middle" transform="translate(872.1 605.3) scale(1 1.06)">700</text>
<text class="tick" text-anchor="start" transform="translate(912.2 557.3) scale(1 1.06)">0.0</text>
<text class="tick" text-anchor="start" transform="translate(912.2 476.4) scale(1 1.06)">0.2</text>
<text class="tick" text-anchor="start" transform="translate(912.2 395.5) scale(1 1.06)">0.4</text>
<text class="tick" text-anchor="start" transform="translate(912.2 314.6) scale(1 1.06)">0.6</text>
<text class="tick" text-anchor="start" transform="translate(912.2 233.6) scale(1 1.06)">0.8</text>
<text class="tick" text-anchor="start" transform="translate(912.2 152.7) scale(1 1.06)">1.0</text>
<text class="tick" text-anchor="start" transform="translate(912.2 71.8) scale(1 1.06)">1.2</text>
<text class="lab" style="font-size:40.2px" text-anchor="middle" transform="translate(32.5 283.7) rotate(-90)">Mass loss (%)</text>
<text class="lab" style="font-size:40px" text-anchor="middle" transform="translate(986.8 281.5) rotate(90)">Deriv. mass loss (%/°C)</text>
<text class="lab" text-anchor="middle" x="501" y="650">Temperature (°C)</text>
<rect x="581.7" y="6.8" width="279.2" height="152.0" fill="#fff" stroke="#111" stroke-width="1.8"/>
<path d="M592 31.2H650" stroke="#000" stroke-width="1.85" fill="none"/>
<text class="leg" x="663.4" y="40.8">EC</text>
<path d="M592 66.4H650" stroke="#000" stroke-width="1.85" fill="none" stroke-dasharray="1.4 1.46"/>
<text class="leg" x="663.4" y="76.0">AESO:EC 1:1</text>
<path d="M592 101.7H650" stroke="#000" stroke-width="1.85" fill="none" stroke-dasharray="3 3.3"/>
<text class="leg" x="663.4" y="111.2">AESO:EC 2:1</text>
<path d="M592 136.4H650" stroke="#000" stroke-width="1.85" fill="none" stroke-dasharray="7.6 5"/>
<text class="leg" x="663.4" y="146.0">AESO:EC 3:1</text>
</g>
</svg></body></html>
